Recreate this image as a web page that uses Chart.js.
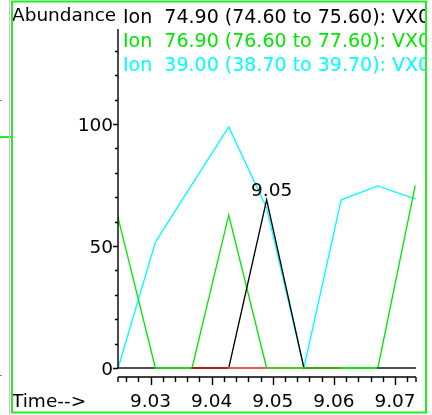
<!DOCTYPE html>
<html>
<head>
<meta charset="utf-8">
<script src="https://cdn.jsdelivr.net/npm/chart.js@4"></script>
<style>
  html, body { margin: 0; padding: 0; background: #fff; }
  canvas { display: block; }
</style>
</head>
<body>
<canvas id="c" width="432" height="415"></canvas>
<script>
// data
const times = [9.0247, 9.0308, 9.0368, 9.0428, 9.0490, 9.0551, 9.0612, 9.0672, 9.0733];
const ion749 = [0, 0, 0, 0, 68.9, 0, 0, 0, 0];
const ion769 = [61.5, 0, 0, 62.7, 0, 0, 0, 0, 74.6];
const ion390 = [0, 51.6, 75.2, 98.8, 65.6, 0, 68.9, 74.6, 69.3];
const baseline = [0, 0, 0, 0, 0, 0, 0, 0, 0];
const legendLabels = [
    'Ion  74.90 (74.60 to 75.60): VX0.D\\data.ms',
    'Ion  76.90 (76.60 to 77.60): VX0.D\\data.ms',
    'Ion  39.00 (38.70 to 39.70): VX0.D\\data.ms'
];
const yTickLabels = [0, 50, 100];
const xTickLabels = ['9.03', '9.04', '9.05', '9.06', '9.07'];
const peakLabel = '9.05';

// colours
const colors = {
    black: '#000000',
    green: '#00e800',
    cyan: '#00ffff',
    frame: '#22ee22'
};
const baseColors = ['#505050', '#22cc22', '#b01c1c', '#f05454', '#55c222', '#44a414', '#11e011', '#505050'];

const FONT = '18.5px "DejaVu Sans"';
const LEGEND_FONT = '19px "DejaVu Sans"';

function pts(ys) {
    return ys.map((y, i) => ({ x: times[i], y: y }));
}

const chemPlugin = {
    id: 'chem',
    afterDraw(chart) {
        const ctx = chart.ctx;
        const xs = chart.scales.x;
        const ys = chart.scales.y;
        const y0 = ys.getPixelForValue(0);
        const axisY = chart.chartArea.bottom;
        const left = chart.chartArea.left;
        const right = chart.chartArea.right;

        ctx.save();
        ctx.strokeStyle = '#000';
        ctx.lineWidth = 1.4;
        // y axis
        ctx.beginPath();
        ctx.moveTo(left, ys.getPixelForValue(ys.max));
        ctx.lineTo(left, y0);
        for (let v = 0; v <= 130; v += 10) {
            const py = Math.round(ys.getPixelForValue(v)) + 0.5;
            const len = v % 50 === 0 ? 5 : 3;
            ctx.moveTo(left - len, py);
            ctx.lineTo(left, py);
        }
        // x axis
        ctx.moveTo(left, axisY);
        ctx.lineTo(right, axisY);
        ctx.moveTo(left, axisY);
        ctx.lineTo(left, axisY + 5);
        ctx.moveTo(right, axisY);
        ctx.lineTo(right, axisY + 5);
        for (let k = 13; k <= 36; k++) {
            const t = k * 0.002 + 9.0;
            const px = Math.round(xs.getPixelForValue(t)) + 0.5;
            const len = k % 5 === 0 ? 8 : 5;
            ctx.moveTo(px, axisY);
            ctx.lineTo(px, axisY + len);
        }
        ctx.stroke();

        // tick labels
        ctx.fillStyle = '#000';
        ctx.font = FONT;
        ctx.textAlign = 'right';
        ctx.textBaseline = 'alphabetic';
        yTickLabels.forEach(v => {
            ctx.fillText(String(v), left - 5, ys.getPixelForValue(v) + 7);
        });
        ctx.textAlign = 'center';
        xTickLabels.forEach(s => {
            ctx.fillText(s, xs.getPixelForValue(parseFloat(s)), 407);
        });
        ctx.textAlign = 'left';
        ctx.fillText('Time-->', 12, 407);

        // peak label on the black trace
        const pi = ion749.indexOf(Math.max(...ion749));
        ctx.textAlign = 'center';
        ctx.fillText(peakLabel, xs.getPixelForValue(times[pi]) + 5, ys.getPixelForValue(ion749[pi]) - 4);

        // header and legend, clipped to the frame
        ctx.beginPath();
        ctx.rect(13, 2, 412, 409);
        ctx.clip();
        ctx.textAlign = 'left';
        ctx.fillStyle = '#000';
        ctx.fillText('Abundance', 12, 21);
        ctx.font = LEGEND_FONT;
        const legendColors = [colors.black, colors.green, colors.cyan];
        const legendY = [22.7, 46.7, 71];
        legendLabels.forEach((s, i) => {
            ctx.fillStyle = legendColors[i];
            ctx.fillText(s, 123, legendY[i]);
        });
        ctx.restore();

        // frame and neighbouring panel edge
        ctx.save();
        ctx.strokeStyle = colors.frame;
        ctx.lineWidth = 2;
        ctx.strokeRect(12, 1.5, 414, 411);
        ctx.beginPath();
        ctx.moveTo(0, 137);
        ctx.lineTo(11, 137);
        ctx.stroke();
        ctx.strokeStyle = '#c8c8c8';
        ctx.lineWidth = 1;
        ctx.beginPath();
        ctx.moveTo(9.5, 0);
        ctx.lineTo(9.5, 415);
        ctx.stroke();
        ctx.fillStyle = '#888';
        ctx.fillRect(0, 100, 2, 1);
        ctx.fillRect(0, 375, 2, 1);
        ctx.restore();
    }
};

new Chart(document.getElementById('c'), {
    type: 'line',
    data: {
        datasets: [
            {
                label: 'base',
                data: pts(baseline),
                borderWidth: 2,
                borderColor: baseColors[0],
                segment: { borderColor: c => baseColors[c.p0DataIndex] },
                order: 0
            },
            {
                label: legendLabels[0],
                data: pts(ion749),
                borderColor: colors.black,
                borderWidth: 1.3,
                order: 1
            },
            {
                label: legendLabels[1],
                data: pts(ion769),
                borderColor: colors.green,
                borderWidth: 1.3,
                order: 2
            },
            {
                label: legendLabels[2],
                data: pts(ion390),
                borderColor: colors.cyan,
                borderWidth: 1.3,
                order: 3
            }
        ]
    },
    options: {
        responsive: false,
        animation: false,
        devicePixelRatio: 1,
        layout: { padding: { left: 118, right: 16, top: 29, bottom: 38 } },
        elements: {
            point: { radius: 0, hoverRadius: 0 },
            line: { tension: 0, fill: false, borderCapStyle: 'round', borderJoinStyle: 'miter' }
        },
        datasets: { line: { clip: false } },
        scales: {
            x: { type: 'linear', min: 9.02468, max: 9.07344, display: false },
            y: { type: 'linear', min: -3.69, max: 138.9, display: false }
        },
        plugins: {
            legend: { display: false },
            tooltip: { enabled: false }
        }
    },
    plugins: [chemPlugin]
});
</script>
</body>
</html>
